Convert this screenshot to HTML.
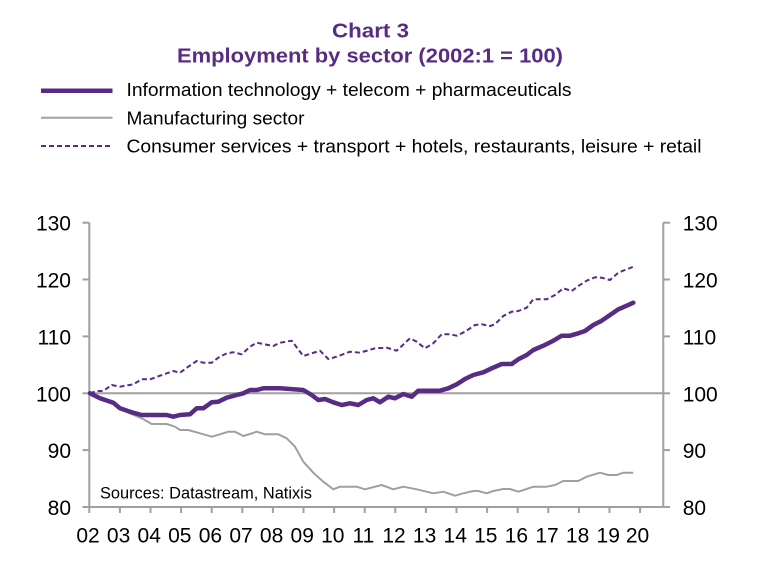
<!DOCTYPE html>
<html><head><meta charset="utf-8"><style>
html,body{margin:0;padding:0;background:#fff;}
svg{display:block;}
</style></head><body>
<svg width="760" height="576" viewBox="0 0 760 576" xmlns="http://www.w3.org/2000/svg" font-family="'Liberation Sans', Arial, sans-serif">
<rect width="760" height="576" fill="#fff"/>
<!-- Title -->
<text x="370.5" y="37.3" font-size="20" font-weight="bold" fill="#582c83" text-anchor="middle" textLength="77" lengthAdjust="spacingAndGlyphs">Chart 3</text>
<text x="370" y="62.7" font-size="20" font-weight="bold" fill="#582c83" text-anchor="middle" textLength="386" lengthAdjust="spacingAndGlyphs">Employment by sector (2002:1 = 100)</text>
<!-- Legend -->
<line x1="41" y1="90.7" x2="112.5" y2="90.7" stroke="#582c83" stroke-width="4.5"/>
<line x1="41" y1="117.7" x2="112.5" y2="117.7" stroke="#a0a0a0" stroke-width="2"/>
<line x1="41" y1="146" x2="112.5" y2="146" stroke="#582c83" stroke-width="2" stroke-dasharray="5,3"/>
<text x="126.5" y="96" font-size="18" fill="#000" textLength="445" lengthAdjust="spacingAndGlyphs">Information technology + telecom + pharmaceuticals</text>
<text x="126.5" y="124.3" font-size="18" fill="#000" textLength="178" lengthAdjust="spacingAndGlyphs">Manufacturing sector</text>
<text x="126.5" y="152.7" font-size="18" fill="#000" textLength="575" lengthAdjust="spacingAndGlyphs">Consumer services + transport + hotels, restaurants, leisure + retail</text>
<!-- Axes -->
<g stroke="#a0a0a0" stroke-width="2" fill="none">
<line x1="89.3" y1="222.7" x2="89.3" y2="507"/>
<line x1="663.3" y1="222.7" x2="663.3" y2="507"/>
<line x1="89.3" y1="507" x2="663.3" y2="507"/>
<line x1="89.3" y1="393.3" x2="663.3" y2="393.3"/>
<!-- left ticks -->
<line x1="82.5" y1="222.7" x2="89.3" y2="222.7"/>
<line x1="82.5" y1="279.5" x2="89.3" y2="279.5"/>
<line x1="82.5" y1="336.4" x2="89.3" y2="336.4"/>
<line x1="82.5" y1="393.3" x2="89.3" y2="393.3"/>
<line x1="82.5" y1="450.1" x2="89.3" y2="450.1"/>
<line x1="82.5" y1="507" x2="89.3" y2="507"/>
<!-- right ticks -->
<line x1="663.3" y1="222.7" x2="670" y2="222.7"/>
<line x1="663.3" y1="279.5" x2="670" y2="279.5"/>
<line x1="663.3" y1="336.4" x2="670" y2="336.4"/>
<line x1="663.3" y1="393.3" x2="670" y2="393.3"/>
<line x1="663.3" y1="450.1" x2="670" y2="450.1"/>
<line x1="663.3" y1="507" x2="670" y2="507"/>
<!-- x ticks -->
<path d="M89.3 507v6M119.9 507v6M150.5 507v6M181.1 507v6M211.7 507v6M242.3 507v6M272.9 507v6M303.5 507v6M334.1 507v6M364.7 507v6M395.3 507v6M425.9 507v6M456.5 507v6M487.1 507v6M517.7 507v6M548.3 507v6M578.9 507v6M609.5 507v6M640.1 507v6"/>
</g>
<!-- Y labels -->
<g font-size="21" fill="#000" text-anchor="end">
<text x="71" y="230.7">130</text>
<text x="71" y="287.5">120</text>
<text x="71" y="344.4">110</text>
<text x="71" y="401.3">100</text>
<text x="71" y="458.1">90</text>
<text x="71" y="515">80</text>
</g>
<g font-size="21" fill="#000" text-anchor="start">
<text x="682.7" y="230.7">130</text>
<text x="682.7" y="287.5">120</text>
<text x="682.7" y="344.4">110</text>
<text x="682.7" y="401.3">100</text>
<text x="682.7" y="458.1">90</text>
<text x="682.7" y="515">80</text>
</g>
<!-- X labels -->
<g font-size="21" fill="#000" text-anchor="middle">
<text x="88" y="542.5">02</text>
<text x="118.6" y="542.5">03</text>
<text x="149.2" y="542.5">04</text>
<text x="179.8" y="542.5">05</text>
<text x="210.4" y="542.5">06</text>
<text x="241" y="542.5">07</text>
<text x="271.6" y="542.5">08</text>
<text x="302.2" y="542.5">09</text>
<text x="332.8" y="542.5">10</text>
<text x="363.4" y="542.5">11</text>
<text x="394" y="542.5">12</text>
<text x="424.6" y="542.5">13</text>
<text x="455.2" y="542.5">14</text>
<text x="485.8" y="542.5">15</text>
<text x="516.4" y="542.5">16</text>
<text x="547" y="542.5">17</text>
<text x="577.6" y="542.5">18</text>
<text x="608.2" y="542.5">19</text>
<text x="637.5" y="542.5">20</text>
</g>
<!-- Sources -->
<text x="100" y="498.3" font-size="17" fill="#000" textLength="212" lengthAdjust="spacingAndGlyphs">Sources:  Datastream,  Natixis</text>
<!-- Manufacturing -->
<polyline fill="none" stroke="#a0a0a0" stroke-width="2" stroke-linejoin="round" points="
90,393.3 100,397.3 111.7,401.7 120,409 130,413.3 141.7,418.3 151.7,424 166.7,424 175,426.7 180,430 188.3,430 200,433.3 211.7,436.7 220,434.3 228.3,431.7 235,431.7 243.3,436 250,434 256.7,431.7 265,434.3 278.3,434.3 286.7,438.3 295,446.7 303.3,461.7 313.3,472.7 323.3,481.7 333.3,489.3 340,486.7 356.7,486.7 365,489.3 381.7,485 393.3,489.3 403.3,486.7 416.7,489.3 433.3,493.3 443.3,491.7 455,495.7 463.3,493.3 473.3,491 478.3,491 486.7,493.3 493.3,491 503.3,489 510,489 518.3,491.7 526.7,489 533.3,486.7 546.7,486.7 555,485 563.3,481 578.3,481 586.7,476.7 600,472.7 608.3,475 616.7,475 623.3,472.7 633.3,472.7"/>
<!-- Consumer services dashed -->
<polyline fill="none" stroke="#582c83" stroke-width="2" stroke-dasharray="5,3" stroke-linejoin="round" points="
90,393.3 96.7,391 103.3,391 111.7,385 120,386.7 133.3,384.3 141.7,379.3 150,379.3 160,375.7 173.3,371 180,372.7 188.3,366.7 196.7,361 203.3,362.7 211.7,362.7 218.3,357.7 226.7,353.3 233.3,352.3 241.7,354.3 250,346.7 256.7,342.7 263.3,344 273.3,346 280,342.7 291.7,340.7 303.3,356 320,350.7 328.3,359 336.7,356.7 350,351.7 360,352.7 375,348.3 386.7,347.7 396.7,350.7 410,338.3 416.7,341.7 425,348.3 433.3,343.3 441.7,334.3 450,334.3 456.7,335.7 465,331.7 475,325 481.7,324.3 490,326 495,324.3 503.3,316 511.7,311.7 518.3,311 526.7,307.7 533.3,299.3 546.7,299.3 555,295 563.3,288.3 571.7,291 578.3,286 586.7,280.7 595,277.3 601.7,277.7 610,280 618.3,272.7 626.7,269.3 633.3,266.7"/>
<!-- IT thick -->
<polyline fill="none" stroke="#582c83" stroke-width="4.5" stroke-linejoin="round" stroke-linecap="round" points="
90,393.3 100,398.3 113.3,402.7 120,408.3 131.7,412.3 141.7,415 151.7,415 166.7,415 173.3,416.7 180,415 190,414.3 196.7,408.3 203.3,408.3 211.7,402.3 218.3,401.7 226.7,397.7 236.7,395 243.3,393.3 250,390 256.7,390 263.3,388.3 280,388.3 293.3,389.3 303.3,390 311.7,395 318.3,400 325,399 333.3,402.3 341.7,405 350,403.3 358.3,405 366.7,400 373.3,398.3 380,402.3 388.3,396.7 395,398.3 403.3,394 411.7,396.7 418.3,390.7 440,390.7 448.3,388.3 456.7,384.3 465,379 473.3,375 483.3,372.3 491.7,368.3 501.7,364 511.7,364 518.3,359.3 526.7,355 533.3,350 543.3,345.7 553.3,340.7 561.7,335.7 570,335.7 578.3,333.3 585,331 593.3,325 601.7,320.7 610,315 618.3,309.3 626.7,305.7 633.3,302.7"/>
</svg>
</body></html>
